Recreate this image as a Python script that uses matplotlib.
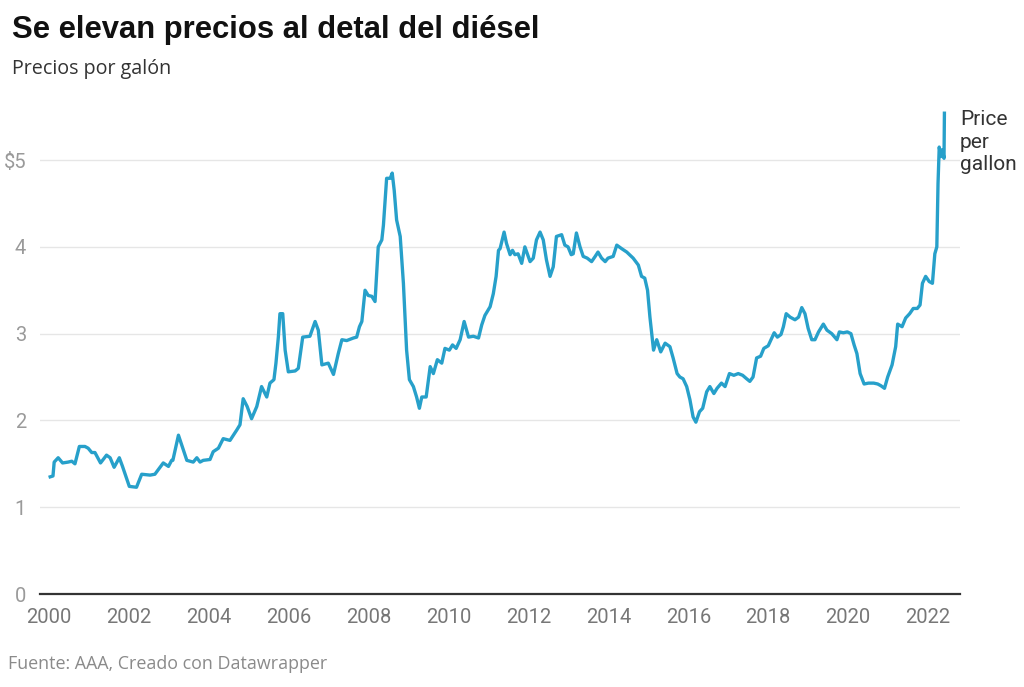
import matplotlib.pyplot as plt

# weekly-ish diesel price (year fraction, $ per gallon)
years = [2000.03, 2000.10, 2000.13, 2000.23, 2000.34, 2000.48, 2000.57, 2000.65, 2000.76, 2000.90,
         2000.98, 2001.07, 2001.15, 2001.29, 2001.44, 2001.53, 2001.63, 2001.76, 2001.84, 2002.01,
         2002.19, 2002.32, 2002.53, 2002.65, 2002.86, 2002.99, 2003.07, 2003.10, 2003.24, 2003.32,
         2003.45, 2003.61, 2003.70, 2003.78, 2003.86, 2004.03, 2004.11, 2004.24, 2004.36, 2004.53,
         2004.70, 2004.78, 2004.86, 2004.96, 2005.07, 2005.20, 2005.32, 2005.45, 2005.53, 2005.63,
         2005.68, 2005.74, 2005.78, 2005.85, 2005.91, 2005.99, 2006.16, 2006.24, 2006.35, 2006.53,
         2006.66, 2006.74, 2006.83, 2006.99, 2007.12, 2007.24, 2007.33, 2007.45, 2007.62, 2007.70,
         2007.77, 2007.83, 2007.91, 2007.99, 2008.08, 2008.16, 2008.24, 2008.33, 2008.37, 2008.45,
         2008.54, 2008.59, 2008.64, 2008.70, 2008.79, 2008.87, 2008.95, 2009.02, 2009.12, 2009.20,
         2009.27, 2009.33, 2009.44, 2009.54, 2009.62, 2009.72, 2009.83, 2009.91, 2010.02, 2010.10,
         2010.19, 2010.29, 2010.39, 2010.50, 2010.62, 2010.75, 2010.83, 2010.91, 2011.04, 2011.12,
         2011.19, 2011.25, 2011.29, 2011.39, 2011.45, 2011.54, 2011.60, 2011.66, 2011.74, 2011.83,
         2011.91, 2011.97, 2012.04, 2012.12, 2012.20, 2012.29, 2012.37, 2012.45, 2012.54, 2012.62,
         2012.70, 2012.83, 2012.91, 2012.99, 2013.07, 2013.12, 2013.20, 2013.29, 2013.37, 2013.47,
         2013.58, 2013.67, 2013.74, 2013.83, 2013.92, 2013.99, 2014.12, 2014.21, 2014.33, 2014.46,
         2014.62, 2014.75, 2014.83, 2014.91, 2014.98, 2015.04, 2015.13, 2015.21, 2015.31, 2015.42,
         2015.54, 2015.62, 2015.72, 2015.79, 2015.87, 2015.96, 2016.04, 2016.12, 2016.19, 2016.28,
         2016.36, 2016.46, 2016.54, 2016.64, 2016.72, 2016.83, 2016.92, 2017.03, 2017.14, 2017.25,
         2017.36, 2017.46, 2017.54, 2017.62, 2017.71, 2017.81, 2017.89, 2018.00, 2018.09, 2018.15,
         2018.23, 2018.32, 2018.38, 2018.45, 2018.55, 2018.67, 2018.76, 2018.84, 2018.92, 2019.00,
         2019.09, 2019.17, 2019.26, 2019.38, 2019.47, 2019.59, 2019.72, 2019.78, 2019.88, 2019.98,
         2020.07, 2020.15, 2020.22, 2020.30, 2020.40, 2020.51, 2020.64, 2020.74, 2020.82, 2020.91,
         2020.99, 2021.10, 2021.19, 2021.24, 2021.35, 2021.44, 2021.54, 2021.63, 2021.73, 2021.80,
         2021.86, 2021.94, 2022.03, 2022.11, 2022.17, 2022.22, 2022.25, 2022.28, 2022.32, 2022.36,
         2022.40, 2022.41]
prices = [1.35, 1.36, 1.52, 1.57, 1.51, 1.52, 1.53, 1.50, 1.70, 1.70,
          1.68, 1.63, 1.63, 1.51, 1.60, 1.57, 1.46, 1.57, 1.47, 1.24,
          1.23, 1.38, 1.37, 1.38, 1.51, 1.47, 1.54, 1.54, 1.83, 1.72,
          1.54, 1.52, 1.57, 1.52, 1.54, 1.55, 1.64, 1.68, 1.79, 1.77,
          1.89, 1.95, 2.25, 2.16, 2.02, 2.16, 2.39, 2.27, 2.43, 2.47,
          2.66, 2.96, 3.23, 3.23, 2.81, 2.56, 2.57, 2.60, 2.96, 2.97,
          3.14, 3.04, 2.64, 2.66, 2.53, 2.77, 2.93, 2.92, 2.95, 2.96,
          3.08, 3.14, 3.50, 3.44, 3.43, 3.37, 4.00, 4.08, 4.25, 4.79,
          4.79, 4.85, 4.65, 4.31, 4.12, 3.58, 2.81, 2.47, 2.39, 2.27,
          2.14, 2.27, 2.27, 2.62, 2.54, 2.70, 2.66, 2.83, 2.81, 2.87,
          2.83, 2.93, 3.14, 2.96, 2.97, 2.95, 3.10, 3.21, 3.31, 3.46,
          3.66, 3.96, 3.98, 4.17, 4.04, 3.91, 3.96, 3.91, 3.92, 3.81,
          4.00, 3.92, 3.83, 3.87, 4.08, 4.17, 4.08, 3.85, 3.66, 3.77,
          4.12, 4.14, 4.02, 4.00, 3.91, 3.92, 4.16, 4.00, 3.89, 3.87,
          3.83, 3.89, 3.94, 3.87, 3.83, 3.87, 3.89, 4.02, 3.98, 3.94,
          3.87, 3.79, 3.66, 3.64, 3.50, 3.19, 2.81, 2.93, 2.79, 2.89,
          2.85, 2.72, 2.54, 2.50, 2.48, 2.39, 2.24, 2.04, 1.98, 2.10,
          2.14, 2.33, 2.39, 2.31, 2.37, 2.43, 2.39, 2.54, 2.52, 2.54,
          2.52, 2.48, 2.45, 2.50, 2.72, 2.74, 2.83, 2.86, 2.95, 3.01,
          2.96, 2.99, 3.08, 3.23, 3.19, 3.16, 3.19, 3.30, 3.23, 3.06,
          2.93, 2.93, 3.02, 3.11, 3.04, 3.00, 2.93, 3.02, 3.01, 3.02,
          3.00, 2.87, 2.77, 2.54, 2.42, 2.43, 2.43, 2.42, 2.40, 2.37,
          2.50, 2.64, 2.85, 3.11, 3.08, 3.18, 3.23, 3.29, 3.29, 3.33,
          3.58, 3.66, 3.60, 3.58, 3.92, 4.00, 4.73, 5.15, 5.04, 5.12,
          5.02, 5.54]

x_ticks = list(range(2000, 2023, 2))
y_ticks = [0, 1, 2, 3, 4, 5]
y_labels = ["0", "1", "2", "3", "4", "$5"]

fig = plt.figure(figsize=(10.24, 6.87), dpi=100)
ax = fig.add_axes([40/1024, 1 - 594/687, 920/1024, (594 - 108)/687])

ax.plot(years, prices, color="#27a0ca", lw=2.4, solid_joinstyle="round", zorder=3)

ax.set_xlim(1999.775, 2022.80)
ax.set_ylim(0, 5.6)
ax.set_yticks(y_ticks)
ax.set_yticklabels(y_labels)
ax.set_xticks(x_ticks)
ax.set_xticklabels([str(t) for t in x_ticks])

for s in ax.spines.values():
    s.set_visible(False)
ax.grid(axis="y", color="#e6e6e6", lw=1)
ax.set_axisbelow(True)
ax.axhline(0, color="#333333", lw=1.6, zorder=4, clip_on=False)
ax.tick_params(axis="both", length=0)
ax.tick_params(axis="y", pad=10, labelsize=14.5, labelcolor="#9a9a9a")
ax.tick_params(axis="x", pad=10, labelsize=14.5, labelcolor="#777777")
for lab in ax.get_xticklabels() + ax.get_yticklabels():
    lab.set_family("Roboto")

fig.text(12/1024, 1 - 30/687, "Se elevan precios al detal del diésel", fontsize=22.3,
         fontweight="bold", family="Liberation Sans", color="#111111", va="center")
fig.text(12/1024, 1 - 69/687, "Precios por galón", fontsize=14.2, family="Open Sans",
         color="#333333", va="center")
fig.text(8/1024, 1 - 664/687, "Fuente: AAA, Creado con Datawrapper", fontsize=12.9,
         family="Open Sans", color="#8a8a8a", va="center")
fig.text(960/1024, 1 - 142/687, "Price\nper\ngallon", fontsize=15, family="Roboto",
         color="#333333", va="center", linespacing=1.22)

fig.savefig("out.png", dpi=100)
